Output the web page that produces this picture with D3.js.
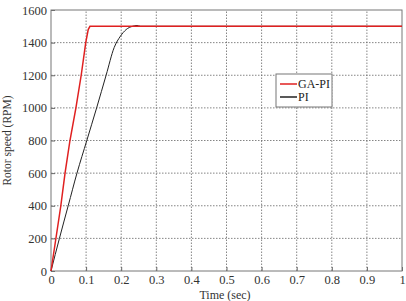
<!DOCTYPE html>
<html>
<head>
<meta charset="utf-8">
<script src="https://cdn.jsdelivr.net/npm/d3@7"></script>
<style>
  body { margin: 0; background: #fff; }
  svg text { font-family: "Liberation Serif", "DejaVu Serif", serif !important; }
</style>
</head>
<body>
<div id="chart"></div>
<script>
// rotor speed response
const gaPiTime  = [0, 0.028, 0.04, 0.054, 0.071, 0.086, 0.099, 0.106, 0.111, 1];
const gaPiSpeed = [0, 400, 600, 800, 1000, 1200, 1400, 1480, 1500, 1500];

const piTime  = [0, 0.024, 0.049, 0.074, 0.102, 0.13, 0.157, 0.18, 0.198, 0.214, 0.232, 0.245, 0.255, 1];
const piSpeed = [0, 200, 400, 600, 800, 1000, 1200, 1370, 1440, 1480, 1500, 1505, 1500, 1500];

const xTicks = [0, 0.1, 0.2, 0.3, 0.4, 0.5, 0.6, 0.7, 0.8, 0.9, 1];
const yTicks = [0, 200, 400, 600, 800, 1000, 1200, 1400, 1600];

const width = 406, height = 301;
const margin = { top: 10, right: 4, bottom: 30, left: 51 };

const svg = d3.select("#chart").append("svg")
    .attr("width", width)
    .attr("height", height);

const x = d3.scaleLinear().domain([0, 1]).range([margin.left, width - margin.right]);
const y = d3.scaleLinear().domain([0, 1600]).range([height - margin.bottom, margin.top]);

// grid
svg.append("g")
    .selectAll("line")
    .data(xTicks.slice(1, -1))
    .enter().append("line")
    .attr("x1", d => x(d)).attr("x2", d => x(d))
    .attr("y1", y(0)).attr("y2", y(1600))
    .attr("stroke", "#666").attr("stroke-width", 0.8)
    .attr("stroke-dasharray", "1.5,1.5");

svg.append("g")
    .selectAll("line")
    .data(yTicks.slice(1, -1))
    .enter().append("line")
    .attr("x1", x(0)).attr("x2", x(1))
    .attr("y1", d => y(d)).attr("y2", d => y(d))
    .attr("stroke", "#666").attr("stroke-width", 0.8)
    .attr("stroke-dasharray", "1.5,1.5");

// axes
const xAxis = svg.append("g")
    .attr("transform", `translate(0,${y(0)})`)
    .call(d3.axisBottom(x).tickValues(xTicks).tickFormat(d3.format("")).tickSize(-4).tickPadding(4));
const yAxis = svg.append("g")
    .attr("transform", `translate(${x(0)},0)`)
    .call(d3.axisLeft(y).tickValues(yTicks).tickFormat(d3.format("d")).tickSize(-4).tickPadding(4));

[xAxis, yAxis].forEach(g => {
    g.attr("font-family", null).attr("font-size", 12.5);
    g.select(".domain").remove();
    g.selectAll("line").attr("stroke", "#666");
    g.selectAll("text").attr("fill", "#333")
        .style("font-family", "'Liberation Serif', serif");
});

// frame
svg.append("rect")
    .attr("x", x(0)).attr("y", y(1600))
    .attr("width", x(1) - x(0)).attr("height", y(0) - y(1600))
    .attr("fill", "none").attr("stroke", "#777").attr("stroke-width", 1);

const line = d3.line().x(d => x(d[0])).y(d => y(d[1]));

svg.append("path")
    .datum(d3.zip(piTime, piSpeed))
    .attr("d", line.curve(d3.curveMonotoneX))
    .attr("fill", "none").attr("stroke", "#222").attr("stroke-width", 1);

svg.append("path")
    .datum(d3.zip(gaPiTime, gaPiSpeed))
    .attr("d", line.curve(d3.curveLinear))
    .attr("fill", "none").attr("stroke", "#e02020").attr("stroke-width", 1.5);

// legend
const leg = svg.append("g");
leg.append("rect")
    .attr("x", 276).attr("y", 74).attr("width", 56).attr("height", 33)
    .attr("fill", "#fff").attr("stroke", "#777").attr("stroke-width", 1);
const items = [["GA-PI", "#e02020"], ["PI", "#222"]];
items.forEach((it, i) => {
    const yy = 84 + i * 13;
    leg.append("line")
        .attr("x1", 280).attr("x2", 297).attr("y1", yy).attr("y2", yy)
        .attr("stroke", it[1]).attr("stroke-width", 1.5);
    leg.append("text")
        .attr("x", 298).attr("y", yy + 4)
        .attr("font-size", 12).attr("fill", "#222")
        .text(it[0]);
});

// axis titles
svg.append("text")
    .attr("x", 225).attr("y", 299)
    .attr("text-anchor", "middle").attr("font-size", 12).attr("fill", "#333")
    .text("Time (sec)");
svg.append("text")
    .attr("transform", `translate(11,${(y(0) + y(1600)) / 2}) rotate(-90)`)
    .attr("text-anchor", "middle").attr("font-size", 11.5).attr("fill", "#333")
    .text("Rotor speed (RPM)");
</script>
</body>
</html>
